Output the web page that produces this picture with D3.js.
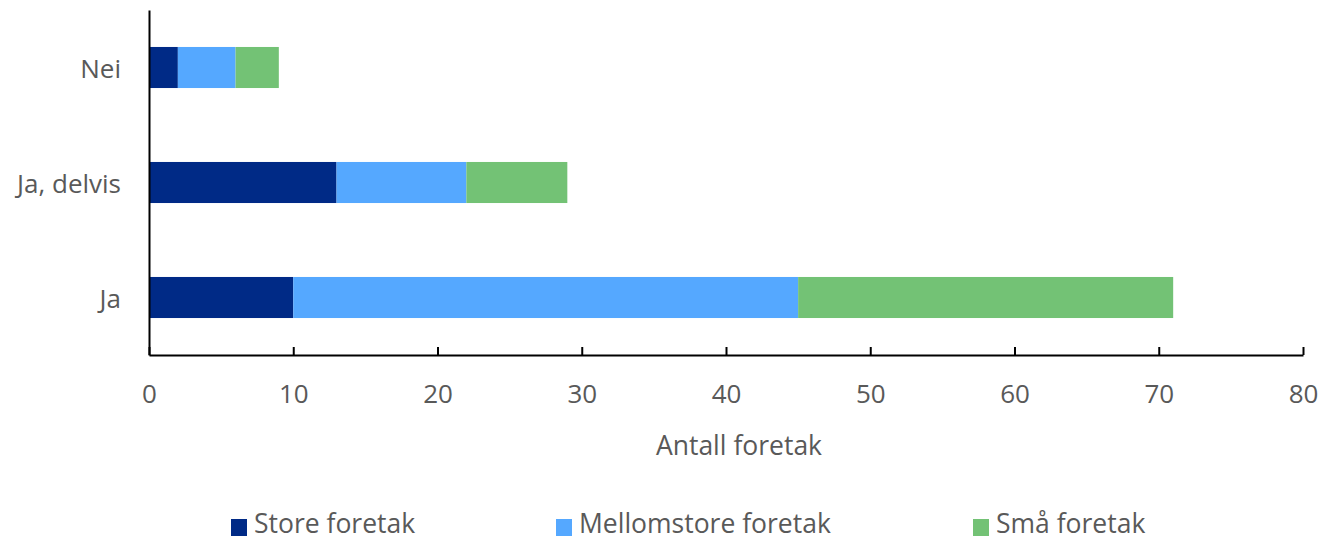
<!DOCTYPE html>
<html><head><meta charset="utf-8">
<script src="https://cdn.jsdelivr.net/npm/d3@7"></script>
<style>body{margin:0;background:#fff}text{font-family:"Open Sans",sans-serif;fill:#595959}</style>
</head><body>
<svg id="c" width="1321" height="539"></svg>
<script>
const categories = ["Nei", "Ja, delvis", "Ja"];
const seriesNames = ["Store foretak", "Mellomstore foretak", "Små foretak"];
const store = [2, 13, 10];
const mellomstore = [4, 9, 35];
const smaa = [3, 7, 26];
const xTicks = [0, 10, 20, 30, 40, 50, 60, 70, 80];
const colors = ["#002a86", "#55a8ff", "#73c275"];

const rows = categories.map((c, i) => ({cat: c, "Store foretak": store[i], "Mellomstore foretak": mellomstore[i], "Små foretak": smaa[i]}));
const stack = d3.stack().keys(seriesNames)(rows);

const svg = d3.select("#c");
const x = d3.scaleLinear().domain([0, 80]).range([149, 1303]);
const y = d3.scaleBand().domain(categories).range([10, 355]).paddingInner(0.643).paddingOuter(0.3215);
const FS = 26;

svg.selectAll("g.s").data(stack).join("g").attr("fill", (d, i) => colors[i])
  .selectAll("rect").data(d => d).join("rect")
  .attr("x", d => x(d[0])).attr("width", d => x(d[1]) - x(d[0]))
  .attr("y", d => y(d.data.cat)).attr("height", y.bandwidth());

// x axis
const xa = svg.append("g").attr("transform", "translate(0,355)")
  .call(d3.axisBottom(x).tickValues(xTicks).tickSizeInner(-8).tickSizeOuter(0));
xa.select(".domain").attr("stroke", "#000").attr("stroke-width", 2);
xa.selectAll(".tick line").attr("stroke", "#000").attr("stroke-width", 2);
xa.selectAll(".tick text").attr("font-size", FS).attr("font-family", "Open Sans").attr("fill", "#595959").attr("y", 48).attr("dy", 0);

// y axis
const ya = svg.append("g").attr("transform", "translate(149,0)")
  .call(d3.axisLeft(y).tickSize(0).tickPadding(28));
ya.select(".domain").attr("stroke", "#000").attr("stroke-width", 2);
ya.selectAll(".tick text").attr("font-size", FS).attr("font-family", "Open Sans").attr("fill", "#595959").attr("dy", "0.41em");

svg.append("text").attr("x", 739).attr("y", 455).attr("text-anchor", "middle").attr("font-size", 26.5).text("Antall foretak");

const legX = [231, 556, 973];
const lg = svg.selectAll("g.lg").data(seriesNames).join("g").attr("transform", (d, i) => `translate(${legX[i]},519)`);
lg.append("rect").attr("width", 16).attr("height", 17).attr("fill", (d, i) => colors[i]);
lg.append("text").attr("x", 23).attr("y", 14).attr("font-size", 26.5).text(d => d);
</script>
</body></html>
